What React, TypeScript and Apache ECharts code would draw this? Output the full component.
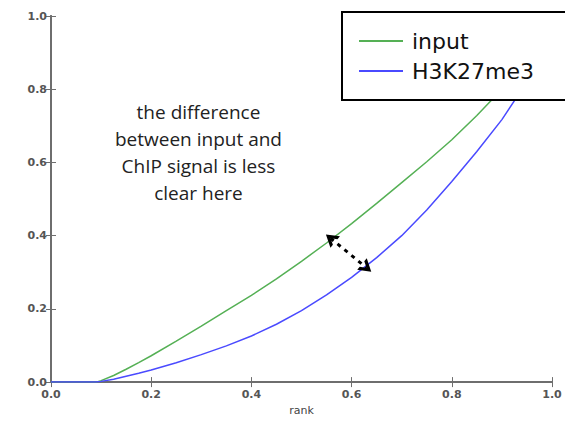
import React, { useEffect, useRef } from "react";
import * as echarts from "echarts";

const inputSeries: number[][] = [
  [0, 0], [0.09, 0], [0.1, 0.004], [0.125, 0.018], [0.15, 0.035], [0.175, 0.053],
  [0.2, 0.072], [0.25, 0.112], [0.3, 0.153], [0.35, 0.195], [0.4, 0.237],
  [0.45, 0.282], [0.5, 0.33], [0.55, 0.38], [0.6, 0.433], [0.65, 0.488],
  [0.7, 0.545], [0.75, 0.602], [0.8, 0.662], [0.85, 0.728], [0.9, 0.8],
  [0.95, 0.89], [1.0, 1.0],
];
const h3k27me3Series: number[][] = [
  [0, 0], [0.09, 0], [0.1, 0.002], [0.125, 0.008], [0.15, 0.016], [0.175, 0.024],
  [0.2, 0.033], [0.25, 0.053], [0.3, 0.075], [0.35, 0.099], [0.4, 0.126],
  [0.45, 0.158], [0.5, 0.195], [0.55, 0.238], [0.6, 0.286], [0.65, 0.34],
  [0.7, 0.4], [0.75, 0.47], [0.8, 0.548], [0.85, 0.63], [0.9, 0.717],
  [0.95, 0.82], [1.0, 0.95],
];
const seriesNames = ["input", "H3K27me3"];
const arrowFrom = [0.558, 0.393];
const arrowTo = [0.63, 0.312];
const annotation = "the difference\nbetween input and\nChIP signal is less\nclear here";
const xAxisName = "rank";

const chevron = "path://M0,10 L5,0 L10,10 L7.4,10 L5,5 L2.6,10 Z";

export default function App() {
  const ref = useRef<HTMLDivElement>(null);
  useEffect(() => {
    if (!ref.current) return;
    const chart = echarts.init(ref.current, undefined, { renderer: "svg" });
    const axisLine = { show: true, lineStyle: { color: "#6e6e6e", width: 2 } };
    const axisTick = { show: true, inside: true, length: 5, lineStyle: { color: "#6e6e6e", width: 1 } };
    const axisLabel = {
      color: "#555",
      fontWeight: "bold" as const,
      fontSize: 11,
      fontFamily: "DejaVu Sans",
      formatter: (v: number) => v.toFixed(1),
    };
    chart.setOption({
      animation: false,
      backgroundColor: "#fff",
      grid: { left: 51, top: 16, width: 501, height: 374, containLabel: false },
      xAxis: [
        {
          type: "value", min: 0, max: 1, interval: 0.2, position: "bottom",
          axisLine, axisTick, axisLabel: { ...axisLabel, margin: 7 },
          splitLine: { show: false },
          name: xAxisName, nameLocation: "middle", nameGap: 19,
          nameTextStyle: { color: "#444", fontSize: 11, fontFamily: "DejaVu Sans", verticalAlign: "top" },
        },
        {
          type: "value", min: 0, max: 1, interval: 0.2, position: "top",
          axisLine, axisTick, axisLabel: { show: false }, splitLine: { show: false },
        },
      ],
      yAxis: [
        {
          type: "value", min: 0, max: 1, interval: 0.2, position: "left",
          axisLine, axisTick, axisLabel: { ...axisLabel, margin: 4 },
          splitLine: { show: false },
        },
        {
          type: "value", min: 0, max: 1, interval: 0.2, position: "right",
          axisLine, axisTick, axisLabel: { show: false }, splitLine: { show: false },
        },
      ],
      legend: {
        left: 342, top: 12, orient: "vertical",
        data: seriesNames,
        icon: "rect",
        backgroundColor: "#fff",
        borderColor: "#000", borderWidth: 2, borderRadius: 0,
        padding: [18, 120, 18, 17],
        itemWidth: 44, itemHeight: 2, itemGap: 8,
        textStyle: { fontSize: 22, lineHeight: 22, fontFamily: "DejaVu Sans", color: "#111", padding: [0, 0, 0, 4] },
        z: 10,
      },
      graphic: [
        {
          type: "text", left: 115, top: 98, z: 20,
          style: {
            text: annotation, fill: "#222", fontSize: 19, lineHeight: 27,
            fontFamily: "Open Sans", textAlign: "center", x: 87,
          },
        },
      ],
      series: [
        {
          name: seriesNames[0], type: "line", data: inputSeries, symbol: "none",
          smooth: false,
          lineStyle: { color: "#55b055", width: 1.5 }, itemStyle: { color: "#55b055" },
          markLine: {
            silent: true, symbol: [chevron, chevron], symbolSize: [15, 12],
            label: { show: false },
            lineStyle: { color: "#000", width: 3, type: [4, 5] },
            data: [[{ coord: arrowFrom }, { coord: arrowTo }]],
            z: 15,
          },
        },
        {
          name: seriesNames[1], type: "line", data: h3k27me3Series, symbol: "none",
          smooth: false,
          lineStyle: { color: "#4a4aff", width: 1.5 }, itemStyle: { color: "#4a4aff" },
        },
      ],
    });
    return () => chart.dispose();
  }, []);
  return <div ref={ref} style={{ position: "fixed", left: 0, top: 0, width: 565, height: 421 }} />;
}
